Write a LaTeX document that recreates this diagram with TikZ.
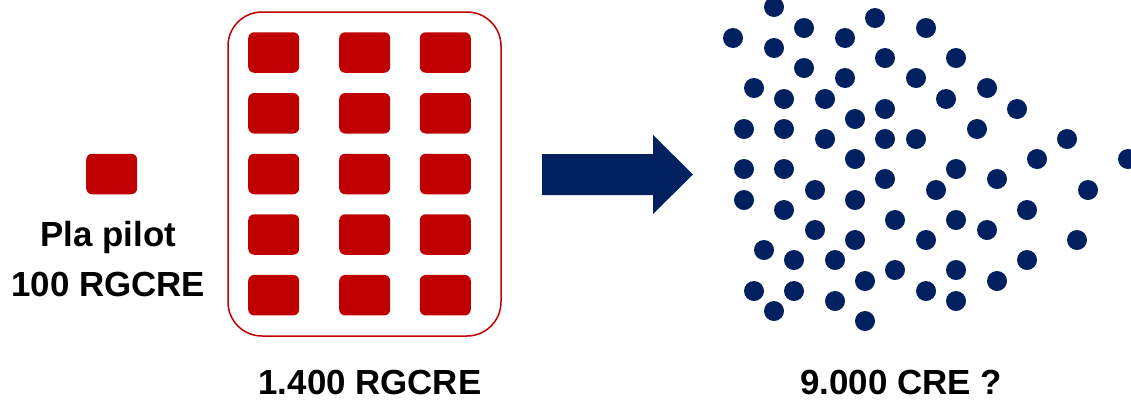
\documentclass[tikz,border=0pt]{standalone}
\usepackage{fontspec}
\setmainfont{Liberation Sans}
\usepackage{xcolor}
\usepackage{tikz}
\usetikzlibrary{positioning}

\definecolor{cellred}{HTML}{C00000}
\definecolor{dotnavy}{HTML}{002060}
\newcommand{\lblfont}{\fontsize{35}{42}\selectfont\bfseries}

\begin{document}
\begin{tikzpicture}[
    x=1bp, y=-1bp,
    cell/.style={rectangle, fill=cellred, rounded corners=6bp, minimum width=51bp, minimum height=40.5bp, inner sep=0pt},
    frame/.style={draw=cellred, line width=1.5bp, rounded corners=34bp},
    dot/.style={fill=dotnavy},
    lbl/.style={font=\lblfont, inner sep=0pt, anchor=base},
]
\useasboundingbox (0,0) rectangle (1131,400);

% Pilot
\node[cell] (pilot) at (111.7,174) {};
\node[lbl] (pilotname) at (108.3,246) {Pla pilot};
\node[lbl] (pilotcount) at (108.3,296.7) {100 RGCRE};

% Grid of cells
\foreach \c/\x in {1/273.7, 2/364.7, 3/445.3}
  \foreach \r/\y in {1/52.5, 2/113.3, 3/174, 4/234.5, 5/295.2}
    \node[cell] (cell-\c-\r) at (\x,\y) {};
\draw[frame] (228,12) rectangle (501,336);
\node[lbl] (gridcount) at (370,394) {1.400 RGCRE};

% Arrow
\fill[dotnavy] (542,154) -- (653,154) -- (653,135) -- (693,174.5)
  -- (653,214) -- (653,195) -- (542,195) -- cycle;

% Scattered dots
\foreach \x/\y in {774/7, 733/38, 774/48, 804/28, 845/38, 875/18, 926/28,
    885/58, 804/68, 845/78, 916/78, 754/88, 784/99, 825/99, 855/119, 885/109,
    744/129, 784/129, 825/139, 885/139, 916/139, 855/159, 744/169, 784/169,
    885/179, 815/190, 744/200, 784/210, 855/200, 895/220, 815/230, 855/240,
    764/250, 794/260, 835/260, 895/270, 865/281, 754/291, 794/291, 774/311,
    835/301, 865/321,
    956/58, 946/99, 987/88, 1017/109, 977/129, 1067/139, 1037/159, 1128/159,
    956/169, 936/190, 997/179, 1088/190, 1027/210, 956/220, 987/230, 926/240,
    1077/240, 1027/260, 956/270, 997/281, 926/291, 956/301}
  \fill[dot] (\x,\y) circle (10bp);
\node[lbl] (dotcount) at (901,394) {9.000 CRE ?};

\end{tikzpicture}
\end{document}
